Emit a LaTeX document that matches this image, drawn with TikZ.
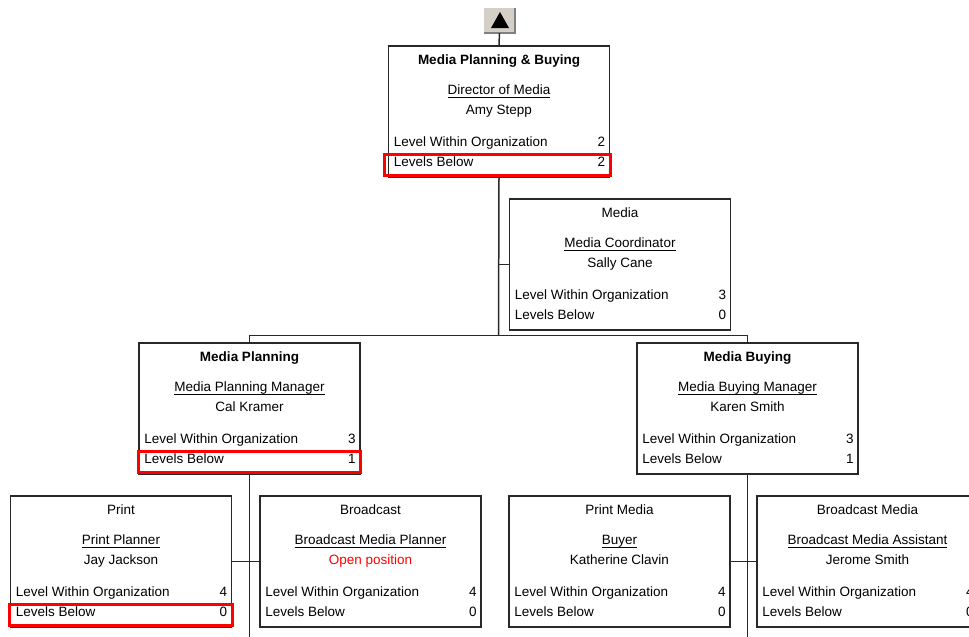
\documentclass[tikz,border=0pt]{standalone}
\usepackage{fontspec}
\setmainfont{Liberation Sans}
\definecolor{boxline}{RGB}{40,40,40}
\definecolor{btnface}{RGB}{212,208,200}
\definecolor{btnshadow}{RGB}{128,128,128}
\definecolor{openred}{RGB}{255,0,0}
\newsavebox\jobbox
\newcommand{\jobul}[1]{\sbox\jobbox{#1}\rlap{\rule[-3.4pt]{\wd\jobbox}{1pt}}\usebox\jobbox}
\tikzset{
  unitbox/.style={draw=boxline, line width=1.6pt, minimum width=221pt, minimum height=131pt, inner sep=0pt, fill=white},
  txt/.style={inner sep=0pt, font=\fontsize{13.5}{16}\selectfont, text=black},
  conn/.style={draw=boxline, line width=1.5pt},
  hilite/.style={draw=red, line width=3.2pt},
  upbtn/.style={fill=btnface, minimum width=31pt, minimum height=25pt, inner sep=0pt}
}
% #1 name, #2 centre x, #3 top y, #4 title, #5 job, #6 person, #7 level, #8 levels below
\newcommand{\orgunit}[8]{%
  \node[unitbox, anchor=north] (#1) at (#2,#3) {};
  \node[txt, anchor=base] (#1-title) at ([yshift=-19.5pt]#1.north) {#4};
  \node[txt, anchor=base] (#1-job) at ([yshift=-49.5pt]#1.north) {\jobul{#5}};
  \node[txt, anchor=base] (#1-name) at ([yshift=-69.5pt]#1.north) {#6};
  \node[txt, anchor=base west] (#1-lwl) at ([xshift=6pt,yshift=-101pt]#1.north west) {Level Within Organization};
  \node[txt, anchor=base east] (#1-lwv) at ([xshift=-5pt,yshift=-101pt]#1.north east) {#7};
  \node[txt, anchor=base west] (#1-lbl) at ([xshift=6pt,yshift=-121pt]#1.north west) {Levels Below};
  \node[txt, anchor=base east] (#1-lbv) at ([xshift=-5pt,yshift=-121pt]#1.north east) {#8};
}
\newcommand{\hilitebox}[2]{%
  \draw[hilite] ([xshift=#2,yshift=23pt]#1.south west) rectangle ([yshift=2pt]#1.south east);
}
\begin{document}
\begin{tikzpicture}[x=1pt, y=-1pt]
  \clip (0,0) rectangle (969,637);
  \fill[white] (0,0) rectangle (969,637);

  % up button
  \node[upbtn] (up) at (499.5,20.5) {};
  \draw[white, line width=1pt] (up.south west) -- (up.north west) -- (up.north east);
  \draw[btnshadow, line width=1.5pt] (up.north east) -- (up.south east) -- (up.south west);
  \fill[black] ([xshift=0.5pt,yshift=8.5pt]up.center) -- ([xshift=-8.5pt,yshift=-7.5pt]up.center) -- ([xshift=9.5pt,yshift=-7.5pt]up.center) -- cycle;

  % units
  \orgunit{top}{499}{45}{\textbf{Media Planning \& Buying}}{Director of Media}{Amy Stepp}{2}{2}
  \orgunit{media}{620}{198}{Media}{Media Coordinator}{Sally Cane}{3}{0}
  \orgunit{mp}{249.5}{342}{\textbf{Media Planning}}{Media Planning Manager}{Cal Kramer}{3}{1}
  \orgunit{mb}{747.5}{342}{\textbf{Media Buying}}{Media Buying Manager}{Karen Smith}{3}{1}
  \orgunit{print}{121}{495}{Print}{Print Planner}{Jay Jackson}{4}{0}
  \orgunit{bc}{370.5}{495}{Broadcast}{Broadcast Media Planner}{\textcolor{openred}{Open position}}{4}{0}
  \orgunit{pm}{619.5}{495}{Print Media}{Buyer}{Katherine Clavin}{4}{0}
  \orgunit{bm}{867.5}{495}{Broadcast Media}{Broadcast Media Assistant}{Jerome Smith}{4}{0}

  % highlights
  \hilitebox{top}{-3.5pt}
  \hilitebox{mp}{0pt}
  \hilitebox{print}{0pt}

  % connectors
  \coordinate (bar) at (498.5,335.5);
  \coordinate (mpend) at (249.5,640);
  \coordinate (mbend) at (747.5,640);
  \draw[conn] (up.south) -- (top.north);
  \draw[conn] (top.south) -- (bar);
  \draw[conn] (media.west) -- (media.west -| bar);
  \draw[conn] (mp.north) |- (bar) -| (mb.north);
  \draw[conn] (mp.south) -- (mpend);
  \draw[conn] (mb.south) -- (mbend);
  \draw[conn] (print.east) -- (bc.west);
  \draw[conn] (pm.east) -- (bm.west);
\end{tikzpicture}
\end{document}
